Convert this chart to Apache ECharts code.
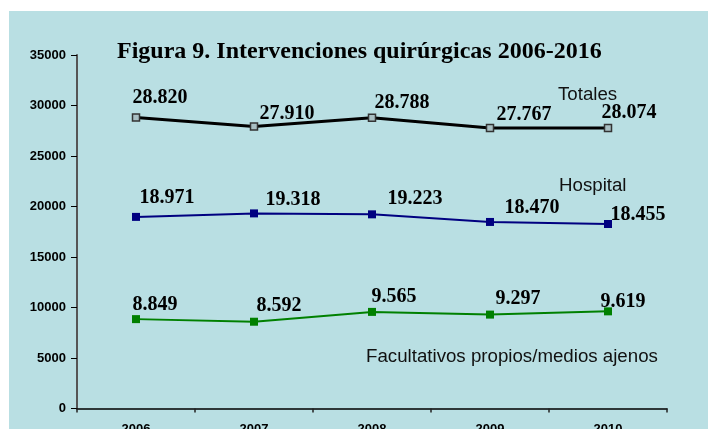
<!DOCTYPE html>
<html>
<head>
<meta charset="utf-8">
<script src="https://cdn.jsdelivr.net/npm/echarts@6/dist/echarts.min.js"></script>
<style>
  html, body { margin: 0; padding: 0; background: #ffffff; }
  #wrap { position: relative; width: 708px; height: 429px; overflow: hidden; background: #ffffff; }
  #panel { position: absolute; left: 9px; top: 11px; right: 0; bottom: 0; background: #B9DFE3; }
  #chart { position: absolute; left: 0; top: 0; width: 708px; height: 429px; }
</style>
</head>
<body>
<div id="wrap"><div id="panel"></div><div id="chart"></div></div>
<script>
// ---- data ----
const titleText = 'Figura 9. Intervenciones quirúrgicas 2006-2016';
const categories = ['2006', '2007', '2008', '2009', '2010'];
const seriesNames = ['Totales', 'Hospital', 'Facultativos propios/medios ajenos'];
const totales = [28820, 27910, 28788, 27767, 27780];
const hospital = [18971, 19318, 19223, 18470, 18270];
const facultativos = [8849, 8592, 9565, 9297, 9619];
const totalesLabels = ['28.820', '27.910', '28.788', '27.767', '28.074'];
const hospitalLabels = ['18.971', '19.318', '19.223', '18.470', '18.455'];
const facultativosLabels = ['8.849', '8.592', '9.565', '9.297', '9.619'];
const yMin = 0, yMax = 35000, yStep = 5000;

// ---- layout (label offsets relative to markers) ----
const totalesOffsets = [[24, -20], [33, -13], [30, -15], [34, -13], [21, -15]];
const hospitalOffsets = [[31, -19], [39, -14], [43, -16], [42, -14], [30, -9]];
const facultativosOffsets = [[19, -14], [25, -16], [22, -15], [28, -16], [15, -10]];

const serif = 'Liberation Serif';
const sans = 'Liberation Sans';

function makeData(values, labels, offsets) {
  return values.map((v, i) => ({
    value: v,
    label: { offset: offsets[i], formatter: labels[i] }
  }));
}
const valueLabel = {
  show: true,
  position: 'inside',
  align: 'center',
  verticalAlign: 'middle',
  fontFamily: serif,
  fontWeight: 'bold',
  fontSize: 20,
  color: '#000'
};
const noteFont = '18.7px "Liberation Sans"';

const chart = echarts.init(document.getElementById('chart'), null, { renderer: 'canvas' });
chart.setOption({
  backgroundColor: 'transparent',
  animation: false,
  title: {
    text: titleText,
    left: 117,
    top: 40,
    padding: 0,
    textStyle: { fontFamily: serif, fontWeight: 'bold', fontSize: 24, color: '#000' }
  },
  grid: { left: 77, right: 41, top: 55, bottom: 20.5, containLabel: false, outerBoundsMode: 'none' },
  xAxis: {
    type: 'category',
    data: categories,
    boundaryGap: true,
    axisLine: { lineStyle: { color: '#000', width: 1.5 } },
    axisTick: { show: true, length: 4, lineStyle: { color: '#222', width: 1.5 } },
    axisLabel: { fontFamily: sans, fontWeight: 'bold', fontSize: 13, color: '#000', margin: 14 },
    splitLine: { show: false }
  },
  yAxis: {
    type: 'value',
    min: yMin,
    max: yMax,
    interval: yStep,
    axisLine: { show: true, lineStyle: { color: '#555', width: 2 } },
    axisTick: { show: true, length: 6, lineStyle: { color: '#000', width: 1 } },
    axisLabel: { fontFamily: sans, fontWeight: 'bold', fontSize: 13, color: '#000', margin: 11,
                 formatter: v => String(v) },
    splitLine: { show: false }
  },
  graphic: [
    { type: 'text', left: 558, top: 85.5, silent: true,
      style: { text: seriesNames[0], font: noteFont, fill: '#111' } },
    { type: 'text', left: 559, top: 176.5, silent: true,
      style: { text: seriesNames[1], font: noteFont, fill: '#111' } },
    { type: 'text', left: 366, top: 347.5, silent: true,
      style: { text: seriesNames[2], font: noteFont, fill: '#111' } }
  ],
  series: [
    {
      name: seriesNames[0],
      type: 'line',
      data: makeData(totales, totalesLabels, totalesOffsets),
      symbol: 'rect',
      symbolSize: 7,
      lineStyle: { color: '#000', width: 3 },
      itemStyle: { color: '#A9BFC3', borderColor: '#333', borderWidth: 1.5 },
      label: valueLabel,
      z: 3
    },
    {
      name: seriesNames[1],
      type: 'line',
      data: makeData(hospital, hospitalLabels, hospitalOffsets),
      symbol: 'rect',
      symbolSize: 8,
      lineStyle: { color: '#000080', width: 2 },
      itemStyle: { color: '#000080' },
      label: valueLabel
    },
    {
      name: seriesNames[2],
      type: 'line',
      data: makeData(facultativos, facultativosLabels, facultativosOffsets),
      symbol: 'rect',
      symbolSize: 8,
      lineStyle: { color: '#008000', width: 2 },
      itemStyle: { color: '#008000' },
      label: valueLabel
    }
  ]
});
</script>
</body>
</html>
